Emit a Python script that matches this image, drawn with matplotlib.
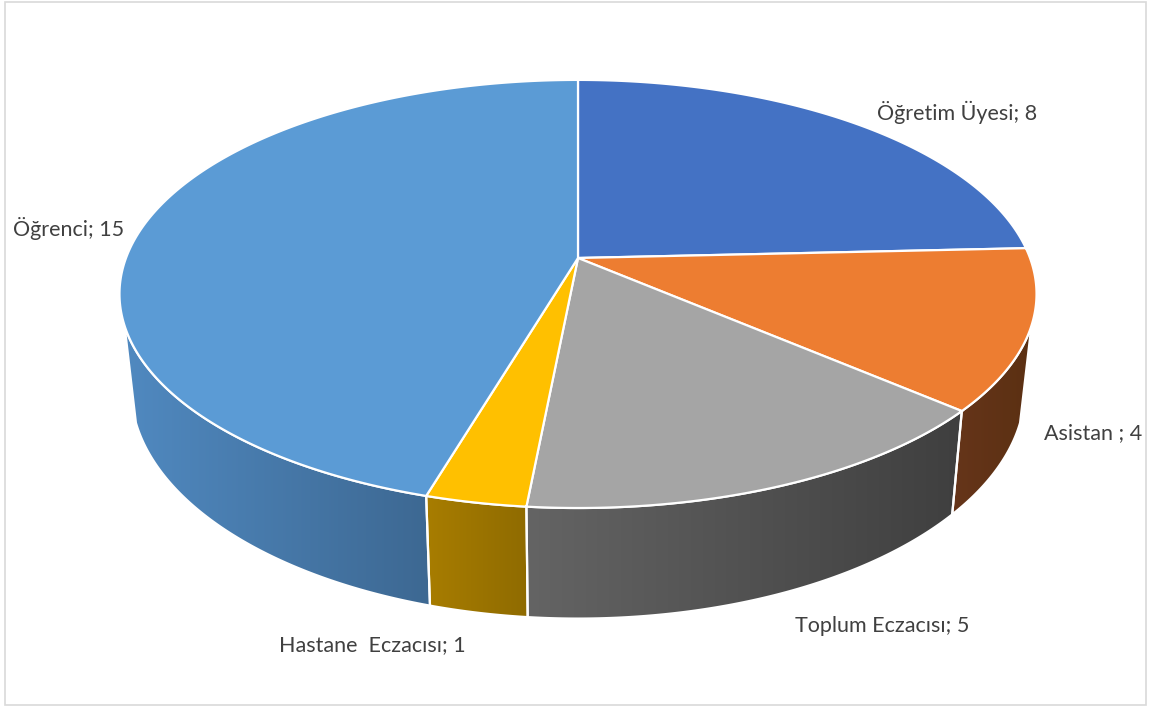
import numpy as np
import matplotlib
matplotlib.use("Agg")
import matplotlib.pyplot as plt
from matplotlib.patches import Polygon, Rectangle
from matplotlib.colors import to_rgb

categories = ["Öğretim Üyesi", "Asistan ", "Toplum Eczacısı", "Hastane  Eczacısı", "Öğrenci"]
values = [8, 4, 5, 1, 15]
top_colors = ["#4472C4", "#ED7D31", "#A5A5A5", "#FFC000", "#5B9BD5"]
side_left = ["#34599a", "#66351a", "#646464", "#a87d00", "#5089c0"]
side_right = ["#2c4c85", "#5b3012", "#3f3f3f", "#8f6b00", "#3d6892"]
label_pos = [(877, 112, "left"), (1044, 433, "left"), (795, 626, "left"),
             (279, 645, "left"), (13, 229, "left")]

W, H = 1149, 707
fig = plt.figure(figsize=(W / 100, H / 100), dpi=100)
ax = fig.add_axes([0, 0, 1, 1])
ax.set_xlim(0, W)
ax.set_ylim(H, 0)
ax.axis("off")

# perspective ellipse parameters (pixel space)
cx, cy = 578, 258
a, b, p = 452, 208, 0.168
hs = 92
shrink = 0.975


def proj(phi_deg, depth=0.0):
    ph = np.radians(phi_deg)
    u = np.cos(ph)
    v = -np.sin(ph)
    d = 1 - p * v
    x = cx + a * u / d
    y = cy + b * v / d + depth / d
    if depth:
        x = cx + (x - cx) * shrink
    return x, y


total = sum(values)
starts, ends = [], []
cur = 90.0
for val in values:
    starts.append(cur)
    cur -= 360.0 * val / total
    ends.append(cur)

vis_lo = -162.0
vis_hi = -18.0

# sides
for i in range(len(values)):
    s, e = starts[i], ends[i]
    hi = min(s, vis_hi)
    lo = max(e, vis_lo)
    if hi <= lo:
        continue
    ph = np.linspace(hi, lo, 120)
    tx, ty = proj(ph)
    bx, by = proj(ph, hs)
    xs = np.concatenate([tx, bx[::-1]])
    ys = np.concatenate([ty, by[::-1]])
    poly = Polygon(np.column_stack([xs, ys]), closed=True, facecolor="none",
                   edgecolor="none")
    ax.add_patch(poly)
    x0, x1 = xs.min(), xs.max()
    y0, y1 = ys.min(), ys.max()
    cl = np.array(to_rgb(side_left[i]))
    cr = np.array(to_rgb(side_right[i]))
    t = np.linspace(0, 1, 256)
    grad = (cl[None, :] * (1 - t[:, None]) + cr[None, :] * t[:, None])[None, :, :]
    im = ax.imshow(grad, extent=[x0, x1, y1, y0], aspect="auto",
                   interpolation="bilinear", zorder=1)
    im.set_clip_path(poly)
    ax.add_patch(Polygon(np.column_stack([xs, ys]), closed=True,
                         facecolor="none", edgecolor="white", lw=1.6, zorder=2))

# tops
for i in range(len(values)):
    ph = np.linspace(starts[i], ends[i], 200)
    tx, ty = proj(ph)
    xs = np.concatenate([[cx], tx])
    ys = np.concatenate([[cy], ty])
    ax.add_patch(Polygon(np.column_stack([xs, ys]), closed=True,
                         facecolor=top_colors[i], edgecolor="white", lw=1.6,
                         zorder=3))

for i, (lx, ly, ha) in enumerate(label_pos):
    ax.text(lx, ly, f"{categories[i]}; {values[i]}", ha=ha, va="center",
            fontsize=15.5, color="#404040", family=["Lato", "DejaVu Sans"],
            zorder=5)

ax.add_patch(Rectangle((5, 2), 1141, 703, facecolor="none",
                       edgecolor="#d9d9d9", lw=1.2, zorder=6))

fig.savefig("out.png", dpi=100)
